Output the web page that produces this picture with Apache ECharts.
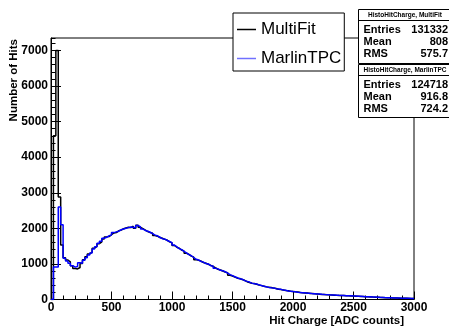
<!DOCTYPE html>
<html>
<head>
<meta charset="utf-8">
<script src="https://cdn.jsdelivr.net/npm/echarts@6/dist/echarts.min.js"></script>
<style>html,body{margin:0;padding:0;background:#fff}#c{width:449px;height:326px}</style>
</head>
<body>
<div id="c"></div>
<script>
// ---- data ----
const binWidth = 20;            // ADC counts per bin
const xRange = [0, 3000];
const yMax = 7350;
const seriesNames = ['MultiFit', 'MarlinTPC'];
const xTickLabels = ['0', '500', '1000', '1500', '2000', '2500', '3000'];
const yTickLabels = ['0', '1000', '2000', '3000', '4000', '5000', '6000', '7000'];
const multiFit = [
  0, 4600, 7000, 2880, 1530, 1170, 1110, 1060, 950, 870,
  860, 900, 1010, 1120, 1200, 1280, 1330, 1440, 1490, 1570,
  1620, 1700, 1760, 1770, 1820, 1870, 1880, 1930, 1950, 1990,
  2010, 2030, 2020, 2060, 2000, 2090, 2030, 1990, 1950, 1910,
  1880, 1860, 1800, 1780, 1740, 1720, 1690, 1670, 1620, 1590,
  1520, 1470, 1440, 1390, 1360, 1300, 1270, 1220, 1190, 1120,
  1100, 1080, 1040, 1020, 990, 960, 930, 890, 850, 830,
  800, 770, 750, 680, 660, 630, 600, 590, 560, 540,
  500, 480, 455, 450, 430, 405, 390, 375, 355, 345,
  335, 320, 310, 290, 280, 270, 255, 245, 230, 225,
  215, 210, 195, 190, 185, 180, 172, 168, 160, 158,
  150, 143, 140, 134, 130, 126, 122, 118, 115, 112,
  110, 106, 104, 100, 97, 94, 90, 86, 82, 78,
  75, 72, 68, 65, 62, 58, 55, 52, 50, 47,
  45, 42, 40, 38, 36, 34, 32, 30, 29, 27
];
const marlinTPC = [
  0, 910, 910, 2600, 2100, 1160, 1080, 1020, 950, 910,
  930, 1030, 1020, 1100, 1170, 1250, 1310, 1420, 1480, 1580,
  1640, 1720, 1750, 1790, 1810, 1880, 1900, 1920, 1960, 1980,
  2000, 2020, 2040, 2030, 2010, 2080, 2040, 1980, 1940, 1920,
  1890, 1850, 1810, 1790, 1750, 1710, 1700, 1660, 1630, 1600,
  1530, 1480, 1430, 1400, 1350, 1310, 1260, 1230, 1180, 1130,
  1110, 1070, 1050, 1010, 1000, 950, 940, 880, 860, 820,
  810, 780, 740, 700, 670, 640, 610, 580, 570, 530,
  510, 490, 460, 440, 435, 410, 395, 370, 360, 340,
  330, 325, 305, 295, 285, 265, 260, 240, 235, 225,
  220, 205, 200, 192, 188, 178, 175, 165, 163, 155,
  152, 146, 141, 137, 131, 128, 124, 120, 116, 114,
  111, 108, 105, 102, 99, 96, 92, 88, 84, 80,
  77, 74, 70, 67, 64, 60, 57, 54, 52, 49,
  47, 44, 42, 40, 38, 36, 34, 32, 30, 29
];
const statsBoxes = [
  {title: 'HistoHitCharge, MultiFit', rows: [['Entries', '131332'], ['Mean', '808'], ['RMS', '575.7']]},
  {title: 'HistoHitCharge, MarlinTPC', rows: [['Entries', '124718'], ['Mean', '916.8'], ['RMS', '724.2']]}
];

// ---- build histogram outlines from bins ----
function outline(vals) {
  const pts = [[xRange[0], 0]];
  vals.forEach((v, i) => {
    pts.push([xRange[0] + i * binWidth, v]);
    pts.push([xRange[0] + (i + 1) * binWidth, v]);
  });
  return pts;
}

const FONT = 'Liberation Sans, Arial, Helvetica, sans-serif';
const chart = echarts.init(document.getElementById('c'), null, {renderer: 'canvas'});

function statsGraphic(box, top, h) {
  const left = 358.5, w = 100;
  const els = [
    {type: 'rect', shape: {x: left, y: top, width: w, height: h}, style: {fill: '#fff', stroke: '#000', lineWidth: 1}},
    {type: 'line', shape: {x1: left, y1: top + 11, x2: left + w, y2: top + 11}, style: {stroke: '#000', lineWidth: 1}},
    {type: 'text', x: 405, y: top + 5.8, style: {text: box.title, font: 'bold 6.5px ' + FONT, fill: '#000', align: 'center', verticalAlign: 'middle'}}
  ];
  box.rows.forEach((r, i) => {
    const yy = top + 20.5 + i * 11.8;
    els.push({type: 'text', x: 363.5, y: yy, style: {text: r[0], font: 'bold 11px ' + FONT, fill: '#000', align: 'left', verticalAlign: 'middle'}});
    els.push({type: 'text', x: 448, y: yy, style: {text: r[1], font: 'bold 11px ' + FONT, fill: '#000', align: 'right', verticalAlign: 'middle'}});
  });
  return els;
}

const option = {
  animation: false,
  backgroundColor: '#fff',
  grid: {left: 51, right: 35, top: 38, bottom: 26.5, show: true, borderColor: '#000', borderWidth: 1, backgroundColor: '#fff'},
  legend: {
    left: 233, top: 13, orient: 'vertical', itemGap: 12, itemWidth: 19, itemHeight: 1.5,
    padding: [8, 3, 4, 4], icon: 'rect',
    borderColor: '#000', borderWidth: 1, backgroundColor: '#fff', borderRadius: 0,
    textStyle: {fontSize: 17, fontFamily: FONT, color: '#000'},
    data: [{name: seriesNames[0], itemStyle: {color: '#000'}}, {name: seriesNames[1], itemStyle: {color: '#7070ff'}}]
  },
  xAxis: {
    type: 'value', min: xRange[0], max: xRange[1], interval: 500,
    axisLine: {lineStyle: {color: '#000', width: 1}},
    axisTick: {inside: true, length: 8, lineStyle: {color: '#000'}},
    minorTick: {show: true, splitNumber: 5, length: 4, lineStyle: {color: '#000'}},
    splitLine: {show: false},
    axisLabel: {margin: 2, fontSize: 12, fontWeight: 'bold', fontFamily: FONT, color: '#000',
      formatter: v => xTickLabels[Math.round(v / 500)] ?? ''}
  },
  yAxis: [{
    type: 'value', min: 0, max: yMax, interval: 1000,
    axisLine: {show: true, lineStyle: {color: '#000', width: 1}},
    axisTick: {inside: true, length: 10, lineStyle: {color: '#000'}},
    splitLine: {show: false},
    axisLabel: {margin: 3, fontSize: 12, fontWeight: 'bold', fontFamily: FONT, color: '#000', showMaxLabel: false,
      formatter: v => (v % 1000 === 0 ? (yTickLabels[v / 1000] ?? '') : '')}
  }, {
    type: 'value', min: 0, max: yMax, interval: 200, position: 'left',
    axisLine: {show: false},
    axisTick: {show: true, inside: true, length: 4.5, lineStyle: {color: '#000'}},
    splitLine: {show: false},
    axisLabel: {show: false}
  }],
  series: [{
    name: seriesNames[0], type: 'line', yAxisIndex: 0, showSymbol: false, symbol: 'none',
    data: outline(multiFit), lineStyle: {color: '#000', width: 1.5}, itemStyle: {color: '#000'}
  }, {
    name: seriesNames[1], type: 'line', yAxisIndex: 0, showSymbol: false, symbol: 'none',
    data: outline(marlinTPC), lineStyle: {color: '#0000ff', width: 1.5}, itemStyle: {color: '#0000ff'}
  }],
  graphic: [
    {type: 'text', x: 13.5, y: 39, rotation: Math.PI / 2,
      style: {text: 'Number of Hits', font: 'bold 11.5px ' + FONT, fill: '#000', align: 'right', verticalAlign: 'middle'}},
    {type: 'text', x: 404, y: 321,
      style: {text: 'Hit Charge [ADC counts]', font: 'bold 11.5px ' + FONT, fill: '#000', align: 'right', verticalAlign: 'middle'}},
    ...statsGraphic(statsBoxes[0], 9.5, 54),
    ...statsGraphic(statsBoxes[1], 64.5, 53)
  ]
};
chart.setOption(option);
</script>
</body>
</html>
